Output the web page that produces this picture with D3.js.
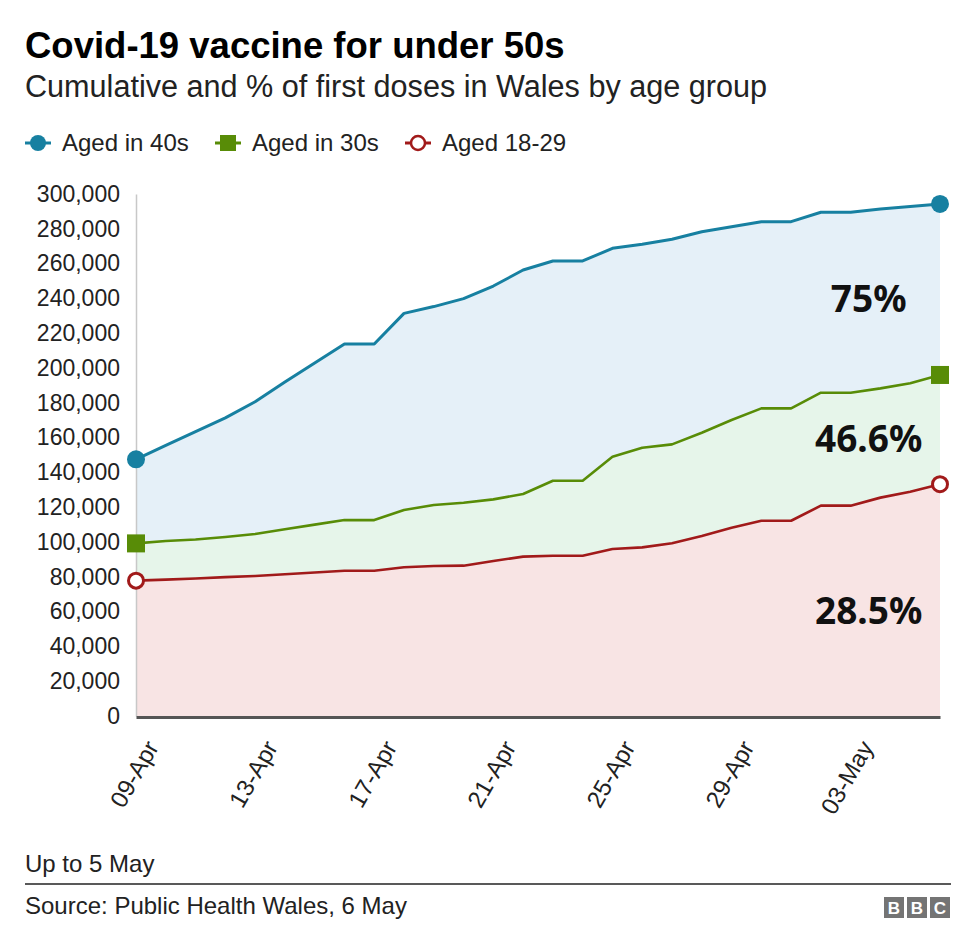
<!DOCTYPE html>
<html>
<head>
<meta charset="utf-8">
<script src="https://cdn.jsdelivr.net/npm/d3@7"></script>
<style>
  html, body { margin: 0; padding: 0; background: #fff; }
  svg { display: block; font-family: "Liberation Sans", Arial, Helvetica, sans-serif; }
</style>
</head>
<body>
<svg id="chart" width="976" height="950"></svg>
<script>
// ---- Data ----
const dates = [
  "2021-04-09","2021-04-10","2021-04-11","2021-04-12","2021-04-13","2021-04-14","2021-04-15",
  "2021-04-16","2021-04-17","2021-04-18","2021-04-19","2021-04-20","2021-04-21","2021-04-22",
  "2021-04-23","2021-04-24","2021-04-25","2021-04-26","2021-04-27","2021-04-28","2021-04-29",
  "2021-04-30","2021-05-01","2021-05-02","2021-05-03","2021-05-04","2021-05-05","2021-05-06"
];
const aged40s = [147500,155500,163400,171300,180600,191900,202900,213800,213800,231400,235300,239900,247100,256300,
                 261500,261500,268800,271100,274000,278300,281200,284100,284100,289500,289500,291400,292800,294300];
const aged30s = [99200,100600,101400,102900,104600,107300,110000,112600,112600,118400,121300,122600,124500,127600,
                 135200,135200,149000,154200,156100,162800,170100,176800,176800,185800,185800,188300,191200,196000];
const aged18to29 = [77800,78400,79000,79800,80500,81500,82500,83500,83500,85500,86200,86400,89100,91600,
                    92100,92100,96000,96900,99300,103400,108200,112200,112200,120900,120900,125500,128900,133200];
const seriesNames = ["Aged in 40s","Aged in 30s","Aged 18-29"];
const pctLabels = ["75%","46.6%","28.5%"];
const yTicks = [0,20000,40000,60000,80000,100000,120000,140000,160000,180000,200000,220000,240000,260000,280000,300000];
const xTickDates = ["2021-04-09","2021-04-13","2021-04-17","2021-04-21","2021-04-25","2021-04-29","2021-05-03"];

const title = "Covid-19 vaccine for under 50s";
const subtitle = "Cumulative and % of first doses in Wales by age group";
const note = "Up to 5 May";
const source = "Source: Public Health Wales, 6 May";

// ---- Setup ----
const svg = d3.select("#chart");
const parse = d3.utcParse("%Y-%m-%d");
const D = dates.map(parse);

const x = d3.scaleUtc().domain([D[0], D[D.length-1]]).range([136, 940]);
const y = d3.scaleLinear().domain([0, 300000]).range([716, 194]);

const colors = ["#1780a1", "#588c07", "#a11a1a"];
const fills  = ["#e5f0f8", "#e6f5ea", "#f8e4e4"];
const series = [aged40s, aged30s, aged18to29];

// Titles
svg.append("text").attr("x", 25).attr("y", 58).attr("font-size", 36.5).attr("font-weight", "bold")
  .attr("fill", "#000").text(title);
svg.append("text").attr("x", 25).attr("y", 97).attr("font-size", 30.6).attr("fill", "#222").text(subtitle);

// Legend
const legendX = [25, 215, 405];
seriesNames.forEach((name, i) => {
  const g = svg.append("g").attr("transform", `translate(${legendX[i]},143)`);
  g.append("line").attr("x1", 0).attr("x2", 26).attr("y1", 0).attr("y2", 0)
    .attr("stroke", colors[i]).attr("stroke-width", 3);
  if (i === 0) g.append("circle").attr("cx", 13).attr("cy", 0).attr("r", 8).attr("fill", colors[i]);
  if (i === 1) g.append("rect").attr("x", 5).attr("y", -8).attr("width", 16).attr("height", 16).attr("fill", colors[i]);
  if (i === 2) g.append("circle").attr("cx", 13).attr("cy", 0).attr("r", 7).attr("fill", "#fff")
    .attr("stroke", colors[i]).attr("stroke-width", 2.5);
  g.append("text").attr("x", 37).attr("y", 0).attr("dy", "0.35em").attr("font-size", 24)
    .attr("fill", "#222").text(name);
});

// Areas
const area = d3.area().x((d, i) => x(D[i])).y0(y(0)).y1(d => y(d));
const line = d3.line().x((d, i) => x(D[i])).y(d => y(d));
series.forEach((s, i) => {
  svg.append("path").datum(s).attr("d", area).attr("fill", fills[i]);
});

// Y axis
const yAxis = svg.append("g").attr("transform", "translate(136,0)")
  .call(d3.axisLeft(y).tickValues(yTicks).tickSize(0).tickPadding(16).tickFormat(d3.format(",")));
yAxis.select(".domain").attr("stroke", "#c8c8c8").attr("stroke-width", 1.5);
yAxis.selectAll("text").attr("font-size", 23).attr("fill", "#222")
  .attr("font-family", "Liberation Sans, Arial, sans-serif");

// Lines
series.forEach((s, i) => {
  svg.append("path").datum(s).attr("d", line).attr("fill", "none")
    .attr("stroke", colors[i]).attr("stroke-width", i === 0 ? 3 : 2.6).attr("stroke-linejoin", "round");
});

// X axis
const xAxis = svg.append("g").attr("transform", "translate(0,717)")
  .call(d3.axisBottom(x).tickValues(xTickDates.map(parse)).tickSize(0).tickFormat(d3.utcFormat("%d-%b")));
xAxis.select(".domain").attr("stroke", "#555").attr("stroke-width", 3);
xAxis.selectAll("text")
  .attr("font-size", 24).attr("fill", "#222")
  .attr("font-family", "Liberation Sans, Arial, sans-serif")
  .attr("text-anchor", "end")
  .attr("dy", null).attr("y", null)
  .attr("transform", "translate(23,30) rotate(-60)");

// Markers
const last = D.length - 1;
[0, last].forEach(j => {
  svg.append("circle").attr("cx", x(D[j])).attr("cy", y(aged40s[j])).attr("r", 9).attr("fill", colors[0]);
  svg.append("rect").attr("x", x(D[j]) - 9).attr("y", y(aged30s[j]) - 9).attr("width", 18).attr("height", 18).attr("fill", colors[1]);
  svg.append("circle").attr("cx", x(D[j])).attr("cy", y(aged18to29[j])).attr("r", 7.5).attr("fill", "#fff")
    .attr("stroke", colors[2]).attr("stroke-width", 3);
});

// Percentage annotations
const pctY = [232000, 152000, 53000];
pctLabels.forEach((t, i) => {
  svg.append("text").attr("x", x(D[24]) + 18).attr("y", y(pctY[i])).attr("text-anchor", "middle")
    .attr("font-size", 37).attr("font-weight", "bold").attr("fill", "#111")
    .attr("font-family", "'Noto Sans', 'Open Sans', sans-serif").text(t);
});

// Footer
svg.append("text").attr("x", 25).attr("y", 872).attr("font-size", 24).attr("fill", "#222").text(note);
svg.append("line").attr("x1", 25).attr("x2", 951).attr("y1", 884).attr("y2", 884).attr("stroke", "#222").attr("stroke-width", 1.5);
svg.append("text").attr("x", 25).attr("y", 914).attr("font-size", 24).attr("fill", "#222").text(source);

// BBC logo
const logo = svg.append("g").attr("transform", "translate(884,897)");
["B","B","C"].forEach((c, i) => {
  logo.append("rect").attr("x", i * 23).attr("y", 0).attr("width", 20).attr("height", 21).attr("fill", "#747474");
  logo.append("text").attr("x", i * 23 + 10).attr("y", 17).attr("text-anchor", "middle")
    .attr("font-size", 17).attr("font-weight", "bold").attr("fill", "#fff").text(c);
});
</script>
</body>
</html>
